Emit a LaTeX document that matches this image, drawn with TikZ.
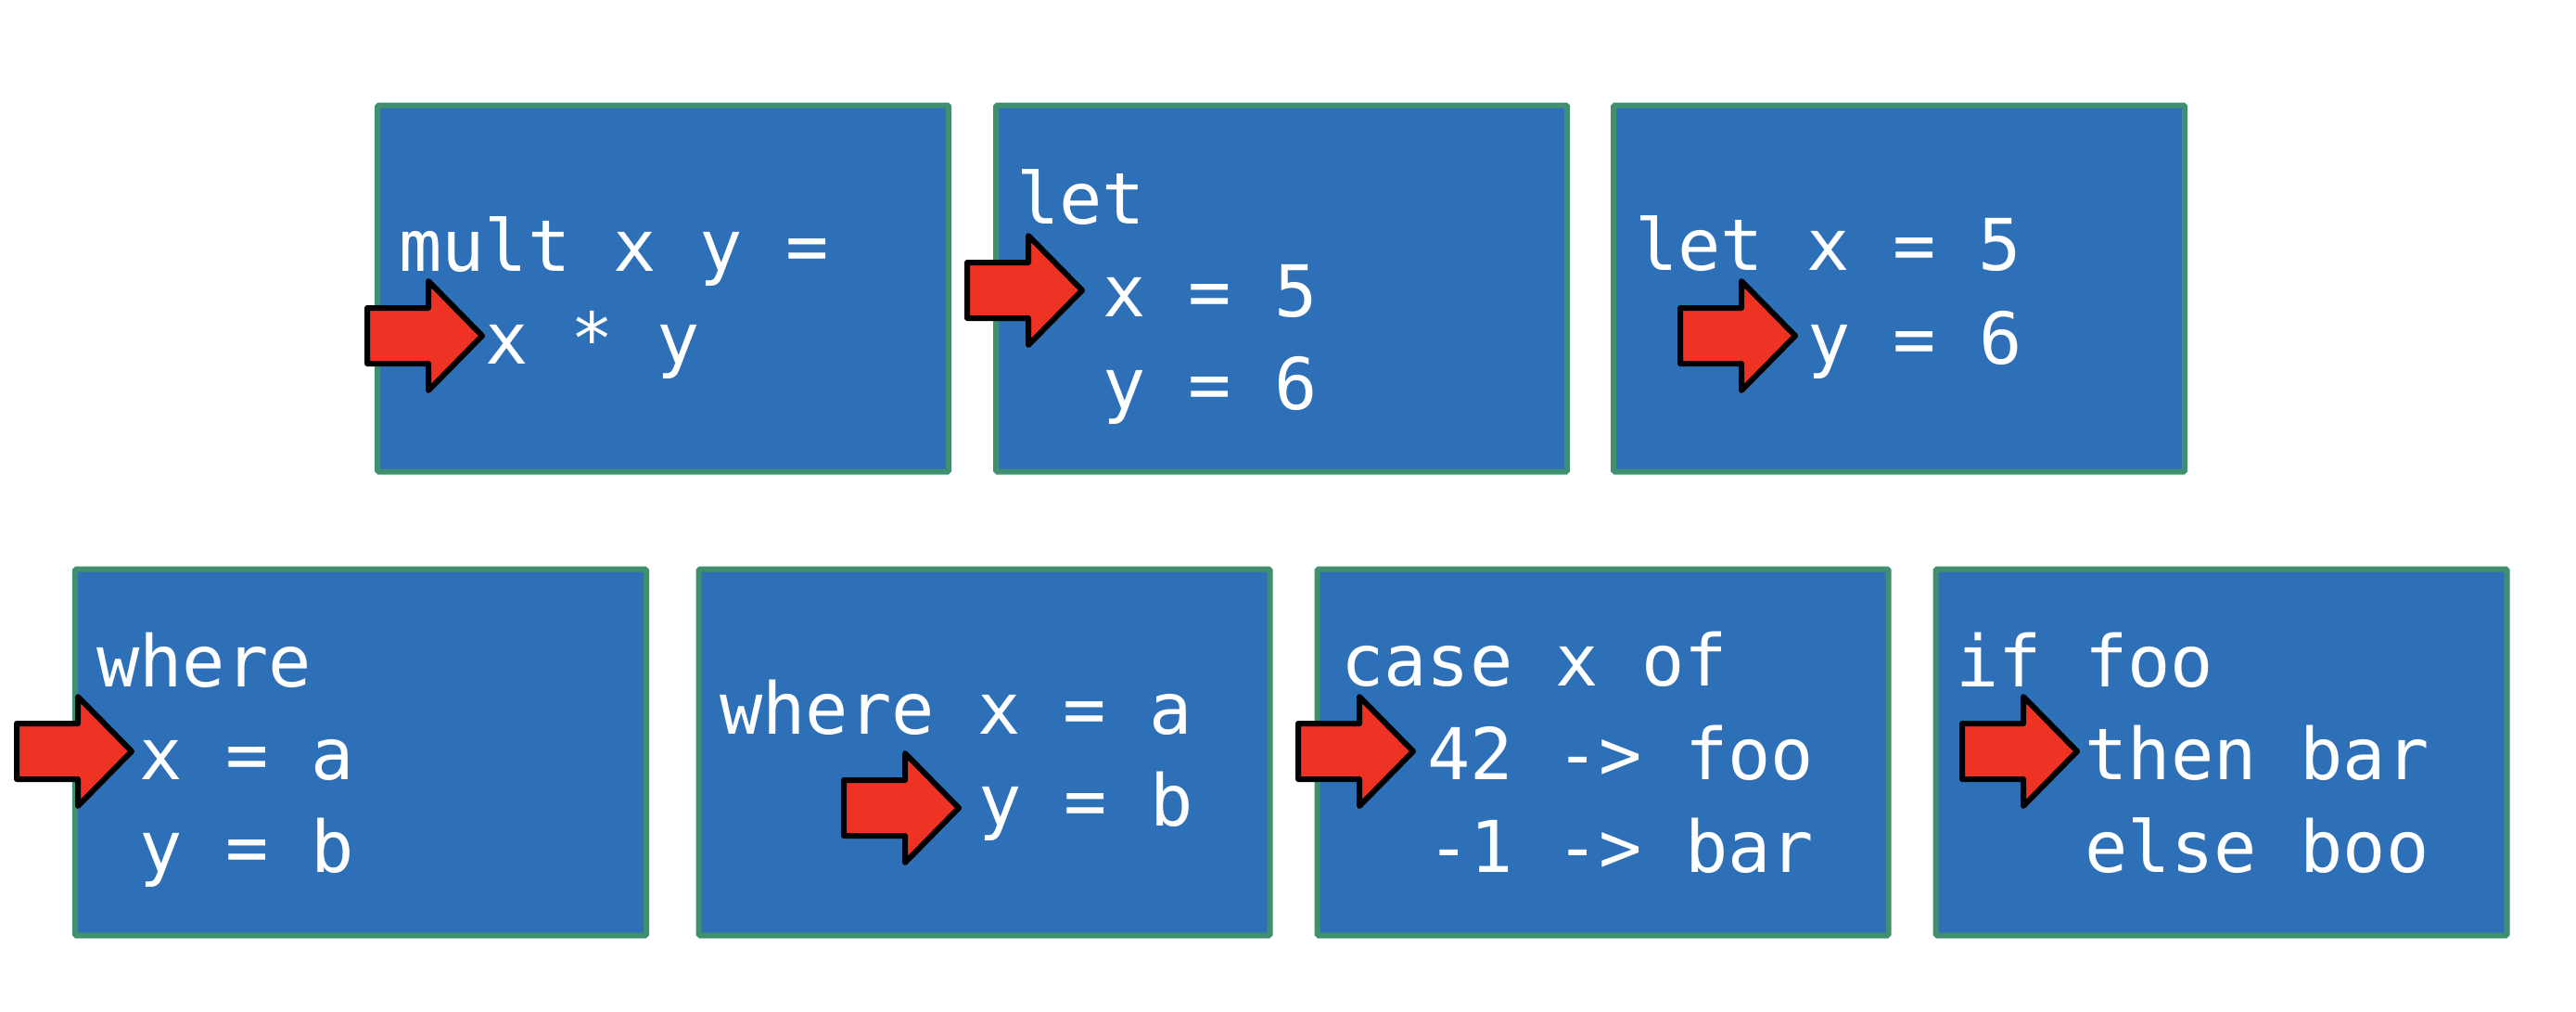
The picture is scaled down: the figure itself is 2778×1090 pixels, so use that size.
\documentclass[tikz,border=0pt]{standalone}
\usepackage{fontspec}
\newfontfamily\codefont{DejaVu Sans Mono}
\definecolor{boxfill}{RGB}{46,112,184}
\definecolor{boxline}{RGB}{64,144,112}
\definecolor{arrowred}{RGB}{238,50,36}
\tikzset{
  codebox/.style={draw=boxline, line width=6pt, fill=boxfill, minimum width=616pt, minimum height=395pt, inner sep=0pt, rounded corners=1.5pt},
  code/.style={anchor=base west, inner sep=0pt, outer sep=0pt, text=white, font=\codefont\fontsize{77}{100}\selectfont},
  pointer/.style={draw=black, line width=6pt, fill=arrowred, line join=round},
  blockarrow/.pic={\path[pointer] (-3,0) -- (-61,-59) -- (-61,-30) -- (-127,-30) -- (-127,30) -- (-61,30) -- (-61,59) -- cycle;}
}
\begin{document}
\begin{tikzpicture}[x=1pt,y=-1pt]
\useasboundingbox (0,0) rectangle (2778,1090);
% boxes
\node[codebox] (b1) at (715,311) {};
\node[codebox] (b2) at (1382,311) {};
\node[codebox] (b3) at (2048,311) {};
\node[codebox] (b4) at (389,811) {};
\node[codebox] (b5) at (1061.5,811) {};
\node[codebox] (b6) at (1728.5,811) {};
\node[codebox] (b7) at (2395.5,811) {};
% texts
\node[code] (t1a) at (430,292) {mult x y =};
\node[code] (t1b) at (523,392) {x * y};
\node[code] (t2a) at (1096,241) {let};
\node[code] (t2b) at (1189,341) {x = 5};
\node[code] (t2c) at (1189,441) {y = 6};
\node[code] (t3a) at (1763,291) {let x = 5};
\node[code] (t3b) at (1949,392) {y = 6};
\node[code] (t4a) at (104,740) {where};
\node[code] (t4b) at (150.5,840) {x = a};
\node[code] (t4c) at (150.5,940) {y = b};
\node[code] (t5a) at (776,791) {where x = a};
\node[code] (t5b) at (1055,890) {y = b};
\node[code] (t6a) at (1446,739) {case x of};
\node[code] (t6b) at (1539,840) {42 -> foo};
\node[code] (t6c) at (1539,940) {-1 -> bar};
\node[code] (t7a) at (2109,740) {if foo};
\node[code] (t7b) at (2248.5,840) {then bar};
\node[code] (t7c) at (2248.5,940) {else boo};
% arrows
\pic (a1) at (523,362) {blockarrow};
\pic (a2) at (1170,313) {blockarrow};
\pic (a3) at (1939,362) {blockarrow};
\pic (a4) at (145,810) {blockarrow};
\pic (a5) at (1037,871) {blockarrow};
\pic (a6) at (1527,810) {blockarrow};
\pic (a7) at (2243,810) {blockarrow};
\end{tikzpicture}
\end{document}
